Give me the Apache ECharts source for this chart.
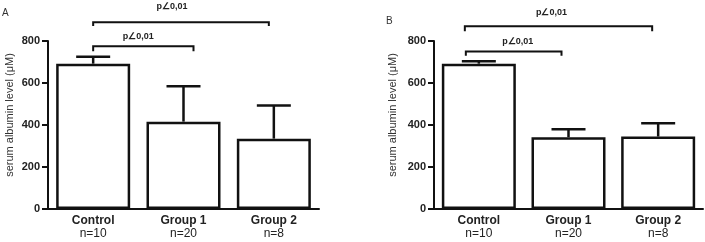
<!DOCTYPE html>
<html>
<head>
<meta charset="utf-8">
<script src="https://cdn.jsdelivr.net/npm/echarts@6/dist/echarts.min.js"></script>
<style>
  html, body { margin: 0; padding: 0; background: #fff; }
  #grafico { width: 705px; height: 242px; }
</style>
</head>
<body>
<div id="grafico"></div>
<script>
// datos
const categorias = ['Control', 'Group 1', 'Group 2']
const tamanos = ['n=10', 'n=20', 'n=8']

const mediaA = [692, 416, 335]
const sdA = [33, 168, 158]
const mediaB = [692, 342, 345]
const sdB = [12, 38, 63]

// [desde, hasta, nivel, fin del gancho]
const llavesA = [[0, 1, 775, 751], [0, 2, 889, 872]]
const llavesB = [[0, 1, 750, 730], [0, 2, 870, 846]]
const textoP = 'p\u22200,01'

const fuente = 'Liberation Sans, Arial, sans-serif'
const negro = '#111'

// ajustes finos en px de los extremos y del texto de cada llave
const ajusteA = [{ dl: 0, dr: 10, dt: -10, dx: -5 }, { dl: 0, dr: -5, dt: -16, dx: -9 }]
const ajusteB = [{ dl: -13, dr: -7, dt: -10, dx: 4 }, { dl: -14, dr: -6, dt: -14, dx: -7 }]

function ejeX(grid) {
  return {
    type: 'category',
    gridIndex: grid,
    data: categorias,
    axisLine: { lineStyle: { color: negro, width: 2 } },
    axisTick: { alignWithLabel: true, length: 4, lineStyle: { color: negro, width: 2 } },
    axisLabel: {
      margin: 5,
      formatter: (v, i) => '{b|' + v + '}\n{n|' + tamanos[i] + '}',
      rich: {
        b: { fontFamily: fuente, fontWeight: 'bold', fontSize: 12, color: '#222', lineHeight: 13 },
        n: { fontFamily: fuente, fontSize: 12, color: '#222', lineHeight: 13 }
      }
    }
  }
}

function ejeY(grid, gap) {
  return {
    type: 'value',
    gridIndex: grid,
    min: 0,
    max: 800,
    interval: 200,
    name: 'serum albumin level (\u03bcM)',
    nameLocation: 'middle',
    nameGap: gap,
    nameTextStyle: { fontFamily: fuente, fontSize: 11, color: '#333', padding: [0, 0, 0, 20] },
    splitLine: { show: false },
    axisLine: { show: true, lineStyle: { color: negro, width: 2 } },
    axisTick: { show: true, length: 6, lineStyle: { color: negro, width: 2 } },
    axisLabel: { margin: 8, fontFamily: fuente, fontWeight: 'bold', fontSize: 11, color: '#222' }
  }
}

function barras(grid, media) {
  return {
    type: 'bar',
    xAxisIndex: grid,
    yAxisIndex: grid,
    data: media,
    barWidth: 74,
    z: 2,
    itemStyle: { color: '#fff', borderColor: negro, borderWidth: 2.5 }
  }
}

function errores(grid, media, sd) {
  return {
    type: 'custom',
    xAxisIndex: grid,
    yAxisIndex: grid,
    z: 3,
    data: media.map((m, i) => [i, m, sd[i]]),
    encode: { x: 0, y: 1 },
    renderItem(params, api) {
      const i = api.value(0)
      const base = api.coord([i, api.value(1)])
      const tope = api.coord([i, api.value(1) + api.value(2)])
      const w = 17
      const estilo = { stroke: negro, lineWidth: 2.5 }
      return {
        type: 'group',
        children: [
          { type: 'line', shape: { x1: base[0], y1: base[1], x2: tope[0], y2: tope[1] }, style: estilo },
          { type: 'line', shape: { x1: tope[0] - w, y1: tope[1], x2: tope[0] + w, y2: tope[1] }, style: estilo }
        ]
      }
    }
  }
}

function llaves(grid, datos, ajuste) {
  return {
    type: 'custom',
    xAxisIndex: grid,
    yAxisIndex: grid,
    clip: false,
    z: 4,
    data: datos,
    encode: { x: [0, 1], y: [2, 3] },
    renderItem(params, api) {
      const aj = ajuste[params.dataIndex]
      const a = api.coord([api.value(0), api.value(2)])
      const b = api.coord([api.value(1), api.value(2)])
      const fin = api.coord([api.value(0), api.value(3)])
      const x1 = a[0] + aj.dl
      const x2 = b[0] + aj.dr
      const y = a[1]
      const estilo = { stroke: negro, lineWidth: 2, fill: null }
      return {
        type: 'group',
        children: [
          { type: 'polyline', shape: { points: [[x1, fin[1]], [x1, y], [x2, y], [x2, fin[1]]] }, style: estilo },
          {
            type: 'text',
            x: (x1 + x2) / 2 + aj.dx,
            y: y + aj.dt,
            style: {
              text: textoP, fontFamily: fuente, fontWeight: 'bold', fontSize: 9,
              fill: '#222', align: 'center', verticalAlign: 'middle'
            }
          }
        ]
      }
    }
  }
}

const chart = echarts.init(document.getElementById('grafico'), null, { renderer: 'canvas' })

chart.setOption({
  animation: false,
  backgroundColor: '#fff',
  grid: [
    { left: 48, top: 41, width: 271, height: 168 },
    { left: 434, top: 41, width: 269, height: 168 }
  ],
  xAxis: [ejeX(0), ejeX(1)],
  yAxis: [ejeY(0, 33), ejeY(1, 36)],
  graphic: [
    { type: 'text', left: 2, top: 8, style: { text: 'A', fontFamily: fuente, fontSize: 10, fill: '#333' } },
    { type: 'text', left: 386, top: 16, style: { text: 'B', fontFamily: fuente, fontSize: 10, fill: '#333' } }
  ],
  series: [
    barras(0, mediaA),
    barras(1, mediaB),
    errores(0, mediaA, sdA),
    errores(1, mediaB, sdB),
    llaves(0, llavesA, ajusteA),
    llaves(1, llavesB, ajusteB)
  ]
})
</script>
</body>
</html>
